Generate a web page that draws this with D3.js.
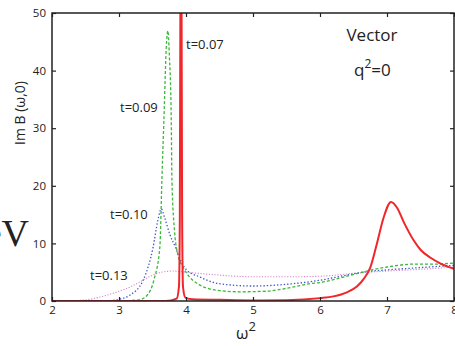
<!DOCTYPE html>
<html><head><meta charset="utf-8">
<script src="https://cdn.jsdelivr.net/npm/d3@7"></script>
<style>
html,body{margin:0;padding:0;background:#fff;}
svg{display:block;}
text{font-family:"Open Sans",sans-serif;fill:#222;}
</style></head>
<body>
<svg id="c" width="455" height="346"></svg>
<script>
// ---- data ----
const xTicks = [2,3,4,5,6,7,8];
const yTicks = [0,10,20,30,40,50];

const redX   = [2.0,3.7,3.86,3.895,3.908,3.918,3.925,3.932,3.942,3.955,3.99,4.1,4.5,5.0,5.5,6.0,6.2,6.4,6.55,6.65,6.75,6.85,6.95,7.06,7.15,7.25,7.4,7.5,7.65,7.8,8.0];
const redY   = [0,0,0.4,2.5,15,60,80,60,15,2.5,0.6,0.3,0.2,0.1,0.15,0.5,0.8,1.5,2.5,3.8,5.8,10,14.5,17.2,16.2,13.7,10.5,8.9,7.5,6.5,5.6];

const greenX = [2.0,3.0,3.3,3.42,3.52,3.61,3.64,3.67,3.71,3.73,3.75,3.78,3.79,3.83,3.88,3.95,4.0,4.2,4.5,4.8,5.2,5.5,5.85,6.0,6.4,6.7,7.0,7.4,7.7,8.0];
const greenY = [0,0,0.2,1,3.6,9.4,21,31.4,45,46.9,43,31.4,21,12,8,6,5.0,2.8,1.8,1.6,1.7,2.2,3.0,3.2,4.3,5.2,5.9,6.4,6.4,6.6];

const blueX  = [2.0,2.8,3.0,3.16,3.36,3.51,3.58,3.63,3.68,3.76,3.84,3.92,4.0,4.2,4.5,5.0,5.5,6.0,6.4,6.7,7.0,7.5,8.0];
const blueY  = [0,0,0.3,1,3.6,9.4,14,16,14.5,11.5,9.4,7,5.5,4.2,3.0,2.6,2.9,3.6,4.5,5.1,5.4,5.8,6.2];

const pinkX  = [2.0,2.3,2.57,2.72,2.9,3.16,3.31,3.45,3.6,3.8,4.0,4.5,5.0,5.5,6.0,6.5,7.0,7.5,8.0];
const pinkY  = [0,0.05,0.3,0.7,1.3,2.4,3.3,4.2,4.9,5.2,5.0,4.5,4.2,4.2,4.3,4.8,5.2,5.5,5.9];

const seriesNames = ["t=0.13","t=0.10","t=0.09","t=0.07"];

// ---- chart ----
const svg = d3.select("#c");
const L = 52, R = 454, T = 13, B = 301;
const x = d3.scaleLinear().domain([2,8]).range([L,R]);
const y = d3.scaleLinear().domain([0,50]).range([B,T]);

svg.append("defs").append("clipPath").attr("id","clip")
  .append("rect").attr("x",L).attr("y",T).attr("width",R-L).attr("height",B-T);

const line = d3.line().x(d=>x(d[0])).y(d=>y(d[1])).curve(d3.curveMonotoneX);
const zip = (a,b)=>a.map((v,i)=>[v,b[i]]);

const series = [
  {xs:pinkX, ys:pinkY, color:"#dc86cc", w:1.1, dash:"1.2,1.6"},
  {xs:blueX, ys:blueY, color:"#3f55cc", w:1.3, dash:"1.4,2"},
  {xs:greenX, ys:greenY, color:"#3db83a", w:1.3, dash:"3,2"},
  {xs:redX, ys:redY, color:"#f0262b", w:2, dash:null}
];
const g = svg.append("g").attr("clip-path","url(#clip)");
series.forEach(s=>{
  g.append("path").datum(zip(s.xs,s.ys)).attr("d",line)
    .attr("fill","none").attr("stroke",s.color).attr("stroke-width",s.w)
    .attr("stroke-dasharray",s.dash);
});

// axes
const fs = "11.5px";
const fmt = d3.format("d");
const ax = svg.append("g").attr("transform",`translate(0,${B})`)
  .call(d3.axisBottom(x).tickValues(xTicks).tickFormat(fmt).tickSizeInner(-4).tickSizeOuter(0).tickPadding(5));
const axTop = svg.append("g").attr("transform",`translate(0,${T})`)
  .call(d3.axisTop(x).tickValues(xTicks).tickSizeInner(-4).tickSizeOuter(0).tickFormat(""));
const ay = svg.append("g").attr("transform",`translate(${L},0)`)
  .call(d3.axisLeft(y).tickValues(yTicks).tickFormat(fmt).tickSizeInner(-4).tickSizeOuter(0).tickPadding(6));
const ayR = svg.append("g").attr("transform",`translate(${R},0)`)
  .call(d3.axisRight(y).tickValues(yTicks).tickSizeInner(-4).tickSizeOuter(0).tickFormat(""));
[ax,axTop,ay,ayR].forEach(a=>{
  a.select(".domain").remove();
  a.selectAll("line").attr("stroke","#222").attr("stroke-width",1.2);
  a.selectAll("text").attr("font-family","'Open Sans',sans-serif").attr("font-size",fs).attr("fill","#222");
});
svg.append("rect").attr("x",L).attr("y",T).attr("width",R-L).attr("height",B-T)
  .attr("fill","none").attr("stroke","#222").attr("stroke-width",1.5);

// titles
svg.append("text").attr("transform","translate(25,113) rotate(-90)")
  .attr("text-anchor","middle").attr("font-size","14px").text("Im B (ω,0)");
const xl = svg.append("text").attr("x",236).attr("y",339).attr("font-size","16px");
xl.append("tspan").text("ω");
xl.append("tspan").attr("dy",-8).attr("font-size","13px").text("2");

svg.append("text").attr("x",372).attr("y",41).attr("text-anchor","middle").attr("font-size","17px").text("Vector");
const q = svg.append("text").attr("x",354).attr("y",76).attr("font-size","17px");
q.append("tspan").text("q");
q.append("tspan").attr("dy",-8).attr("font-size","12px").text("2");
q.append("tspan").attr("dy",8).text("=0");

// curve labels
const lab = [
  {t:seriesNames[3], x:186, y:49},
  {t:seriesNames[2], x:120, y:112},
  {t:seriesNames[1], x:110, y:219},
  {t:seriesNames[0], x:90, y:280}
];
lab.forEach(l=>svg.append("text").attr("x",l.x).attr("y",l.y).attr("font-size","13px").text(l.t));

// stray large text from page (cut off at the left edge, as in the reference)
svg.append("text").attr("x",29).attr("y",246).attr("text-anchor","end")
  .style("font-family","'Liberation Serif',serif")
  .attr("font-size","38px").attr("fill","#111").text("eV");
</script>
</body></html>
